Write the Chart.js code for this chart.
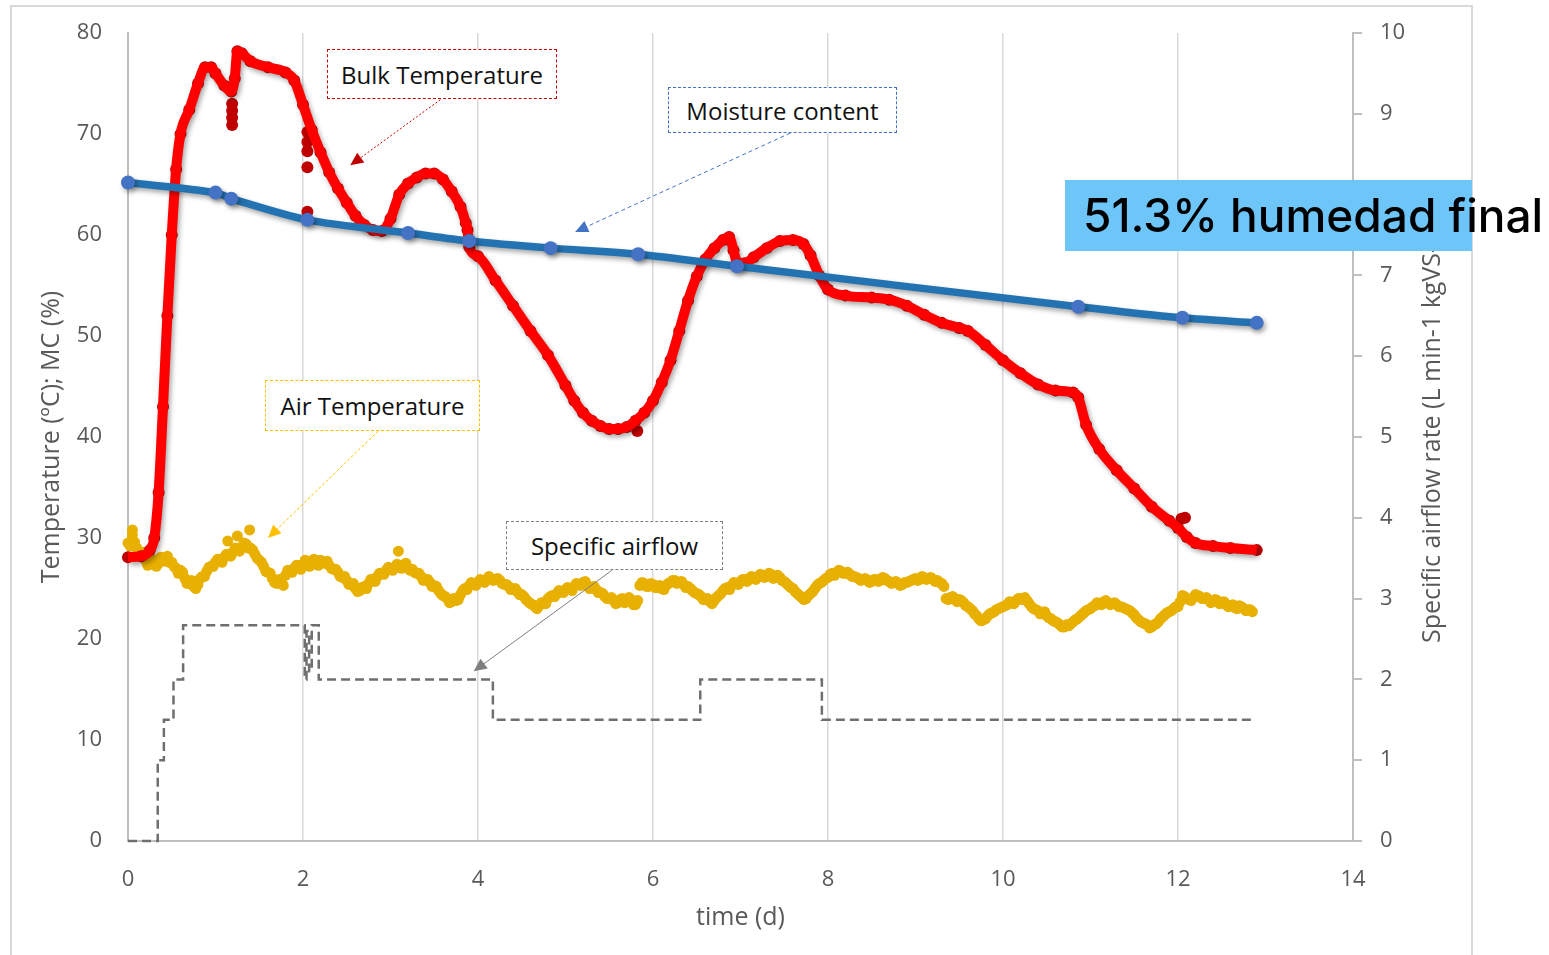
<!DOCTYPE html>
<html>
<head>
<meta charset="utf-8">
<script src="https://cdn.jsdelivr.net/npm/chart.js@4.4.0/dist/chart.umd.min.js"></script>
<style>
  html, body { margin: 0; padding: 0; background: #fff; overflow: hidden; }
  #wrap { position: relative; width: 1549px; height: 955px; }
  #frame { position: absolute; left: 10px; top: 5px; width: 1463px; height: 980px; border: 2px solid #d9d9d9; box-sizing: border-box; }
  canvas { position: absolute; left: 0; top: 0; }
  .note { position: absolute; box-sizing: border-box; display: flex; align-items: center; justify-content: center;
          font-family: "Open Sans", sans-serif; font-size: 24px; color: #111; background: #fff; }
  #final { position: absolute; left: 1065px; top: 180px; width: 407px; height: 71px; background: #6ec6f8;
           font-family: Inter, "Noto Sans", sans-serif; font-size: 46px; font-weight: 500; color: #000;
           white-space: nowrap; line-height: 71px; padding-left: 18px; box-sizing: border-box; overflow: visible; }
</style>
</head>
<body>
<div id="wrap">
  <div id="frame"></div>
  <canvas id="myChart" width="1549" height="955"></canvas>
  <div class="note" style="left:327px;top:49px;width:230px;height:50px;border:1.5px dashed #c00000;">Bulk Temperature</div>
  <div class="note" style="left:668px;top:87px;width:229px;height:46px;border:1.5px dashed #4472c4;">Moisture content</div>
  <div class="note" style="left:265px;top:380px;width:215px;height:51px;border:1.5px dashed #ffc000;">Air Temperature</div>
  <div class="note" style="left:506px;top:521px;width:217px;height:49px;border:1.5px dashed #7f7f7f;">Specific airflow</div>
  <div id="final">51.3% humedad final</div>
</div>
<script>
// bulk temperature (ºC), time in days
const bulkTime = [0, 0.15, 0.25, 0.3, 0.35, 0.4, 0.45, 0.5, 0.55, 0.6, 0.7, 0.8, 0.88, 0.95, 1.0, 1.1, 1.18, 1.22, 1.25, 1.3,
  1.4, 1.6, 1.8, 1.9, 2.0, 2.1, 2.2, 2.3, 2.4, 2.5, 2.6, 2.7, 2.8, 2.9, 3.0, 3.1, 3.2, 3.3, 3.4, 3.5,
  3.6, 3.7, 3.8, 3.86, 3.88, 3.9, 4.0, 4.2, 4.4, 4.6, 4.8, 5.0, 5.1, 5.2, 5.3, 5.4, 5.5, 5.6, 5.7, 5.8,
  5.9, 6.0, 6.1, 6.2, 6.3, 6.4, 6.5, 6.6, 6.7, 6.8, 6.87, 6.92, 6.96, 7.05, 7.15, 7.3, 7.45, 7.6, 7.72, 7.8,
  7.9, 8.0, 8.2, 8.5, 8.7, 8.9, 9.1, 9.3, 9.5, 9.6, 9.8, 10.0, 10.2, 10.4, 10.6, 10.8, 10.86, 10.95, 11.1, 11.3,
  11.5, 11.7, 11.9, 12.0, 12.1, 12.2, 12.4, 12.6, 12.9];
const bulkTemp = [28.1, 28.2, 28.8, 30.0, 34.5, 43.0, 52.0, 60.0, 66.5, 70.0, 72.4, 75.0, 76.6, 76.6, 76.0, 74.8, 74.2, 75.5, 78.2, 78.0,
  77.2, 76.6, 76.1, 75.3, 72.9, 70.4, 68.2, 66.2, 64.6, 63.2, 61.9, 61.0, 60.5, 60.4, 61.6, 64.0, 65.1, 65.7, 66.1, 66.1,
  65.5, 64.3, 62.8, 61.2, 60.5, 58.8, 57.9, 55.5, 53.0, 50.5, 48.1, 45.1, 43.6, 42.4, 41.6, 41.1, 40.8, 40.8, 41.0, 41.6,
  42.4, 43.6, 45.4, 47.6, 50.5, 53.5, 55.9, 57.6, 58.7, 59.5, 59.8, 58.5, 57.3, 57.2, 57.8, 58.7, 59.4, 59.5, 59.1, 58.0,
  56.0, 54.6, 54.0, 53.8, 53.6, 53.0, 52.1, 51.3, 50.8, 50.5, 49.1, 47.6, 46.3, 45.2, 44.6, 44.4, 43.9, 41.2, 38.8, 36.7,
  34.9, 33.1, 31.7, 31.0, 30.1, 29.5, 29.2, 29.0, 28.8];
// stray bulk temperature readings
const bulkOddTime = [1.19, 1.19, 1.19, 1.19, 2.05, 2.05, 2.05, 2.05, 2.05, 5.82, 12.04, 12.08];
const bulkOddTemp = [73.0, 72.3, 71.6, 70.9, 70.2, 69.2, 68.3, 66.7, 62.3, 40.6, 31.9, 32.0];

// moisture content (%)
const mcTime = [0, 1.0, 1.18, 2.05, 3.2, 3.9, 4.83, 5.83, 6.96, 10.86, 12.05, 12.9];
const mcValue = [65.2, 64.2, 63.6, 61.5, 60.2, 59.4, 58.7, 58.1, 56.9, 52.9, 51.8, 51.3];

// air temperature (ºC): readings every 0.05 d from day 0 ...
const airStep = 0.05;
const airTemp = [
  29.5, 30.3, 29.0, 28.2, 27.8, 27.4, 27.8, 27.5, 28.0, 28.2, 27.6, 27.0, 26.8, 26.0, 25.6, 25.2, 25.4, 26.2, 26.7, 27.2,
  27.6, 27.8, 28.1, 28.4, 28.6, 28.9, 29.1, 29.4, 29.0, 28.4, 27.8, 27.2, 26.6, 26.0, 25.5, 25.6, 26.3, 26.8, 27.0, 27.2,
  27.4, 27.5, 27.7, 27.5, 27.8, 27.6, 27.3, 26.9, 26.6, 26.1, 25.8, 25.4, 25.0, 24.8, 25.2, 25.5, 25.9, 26.2, 26.5, 26.8,
  27.0, 27.1, 27.2, 27.3, 27.0, 26.9, 26.5, 26.2, 25.9, 25.6, 25.3, 24.8, 24.3, 24.0, 23.7, 23.8, 24.4, 25.0, 25.3, 25.5,
  25.6, 25.8, 25.9, 26.0, 25.9, 25.8, 25.4, 25.2, 24.9, 24.7, 24.4, 23.9, 23.5, 23.2, 23.3, 23.6, 24.0, 24.3, 24.5, 24.7,
  24.9, 25.0, 25.2, 25.4, 25.6, 25.3, 25.1, 24.9, 24.6, 24.2, 24.0, 23.8, 23.6, 24.0, 23.7, 23.9, 23.4, 25.3, 25.5, 25.2,
  25.4, 25.1, 25.0, 25.3, 25.6, 25.8, 25.6, 25.4, 25.2, 24.8, 24.5, 24.2, 23.9, 23.7, 23.8, 24.3, 24.8, 25.1, 25.3, 25.5,
  25.7, 25.9, 26.0, 26.1, 26.2, 26.3, 26.2, 26.4, 26.2, 26.1, 25.7, 25.3, 25.0, 24.5, 24.1, 24.0, 24.5, 25.0, 25.5, 25.8,
  26.1, 26.5, 26.6, 26.7, 26.5, 26.4, 26.2, 26.0, 25.9, 25.8, 25.7, 25.9, 25.8, 26.0, 25.7, 25.6, 25.5, 25.4, 25.6, 25.8,
  26.0, 25.9, 26.1, 26.0, 25.9, 25.8, 25.5, 24.0, 24.1, 24.0, 23.9, 23.6, 23.2, 22.8, 22.3, 21.8, 22.0, 22.5, 22.7, 23.0,
  23.2, 23.4, 23.6, 23.8, 24.0, 24.1, 23.5, 23.0, 22.8, 22.6, 22.3, 22.0, 21.7, 21.4, 21.2, 21.3, 21.7, 22.0, 22.4, 22.8,
  23.0, 23.3, 23.5, 23.7, 23.6, 23.5, 23.4, 23.2, 23.0, 22.8, 22.4, 21.9, 21.6, 21.4, 21.2, 21.5, 22.0, 22.4, 22.7, 23.0,
  23.2, 24.3, 24.0, 23.8, 24.4, 24.2, 24.0, 23.9, 23.7, 23.8, 23.6, 23.4, 23.3, 23.1, 23.3, 23.0, 22.9, 22.7
];
// ... and the readings in between (from 0.025 d, same step)
const airTempMid = [
  29.2, 29.6, 28.5, 28.6, 27.3, 27.9, 27.2, 28.1, 27.7, 27.6, 27.2, 26.5, 26.6, 25.5, 25.8, 25.0, 26.0, 26.2, 27.1, 27.2,
  27.9, 27.6, 28.4, 28.2, 29.0, 28.7, 29.5, 29.0, 28.8, 28.0, 27.6, 26.7, 26.5, 25.6, 25.9, 25.3, 26.8, 26.6, 27.3, 26.9,
  27.8, 27.2, 27.9, 27.3, 27.5, 27.7, 27.0, 26.9, 26.2, 26.2, 25.4, 25.5, 24.7, 25.1, 25.0, 25.9, 25.7, 26.5, 26.4, 27.1,
  26.8, 27.4, 27.0, 27.5, 26.8, 26.6, 26.5, 25.8, 25.9, 25.2, 25.2, 24.5, 24.2, 23.6, 24.0, 23.9, 24.8, 24.9, 25.6, 25.3,
  25.9, 25.6, 26.2, 25.8, 26.0, 25.5, 25.4, 24.9, 25.0, 24.4, 24.2, 23.7, 23.4, 23.0, 23.6, 23.5, 24.2, 24.2, 24.8, 24.6,
  25.1, 24.8, 25.5, 25.3, 25.7, 25.0, 25.2, 24.6, 24.5, 24.0, 24.1, 23.5, 23.9, 23.6, 24.1, 23.4, 23.8, 25.6, 25.2, 25.5,
  25.1, 25.3, 24.9, 25.5, 25.8, 25.5, 25.7, 25.1, 25.0, 24.6, 24.4, 23.9, 24.0, 23.5, 24.1, 24.5, 25.0, 24.9, 25.6, 25.4,
  25.9, 25.7, 26.2, 25.9, 26.4, 26.1, 26.5, 26.0, 26.3, 25.8, 25.5, 25.1, 24.7, 24.3, 23.9, 24.3, 24.7, 25.3, 25.6, 26.0,
  26.4, 26.3, 26.8, 26.5, 26.6, 26.2, 26.1, 25.8, 26.0, 25.6, 25.9, 25.7, 26.1, 25.8, 25.5, 25.7, 25.3, 25.6, 25.7, 25.9,
  25.8, 26.2, 25.9, 26.1, 25.7, 25.6, 25.2, 23.9, 24.2, 23.7, 23.8, 23.3, 23.0, 22.5, 22.0, 21.9, 22.3, 22.6, 22.9, 23.1,
  23.3, 23.7, 23.5, 24.0, 23.9, 23.8, 23.2, 22.9, 22.5, 22.7, 22.1, 21.8, 21.6, 21.2, 21.4, 21.5, 21.9, 22.2, 22.6, 22.9,
  23.2, 23.6, 23.4, 23.8, 23.4, 23.6, 23.2, 23.1, 22.9, 22.6, 22.1, 21.7, 21.5, 21.1, 21.4, 21.7, 22.2, 22.6, 22.8, 23.2,
  23.7, 24.2, 23.9, 24.1, 24.3, 24.0, 24.1, 23.6, 23.9, 23.5, 23.7, 23.2, 23.4, 23.0, 23.2, 22.8, 22.9
];
const airOddTime = [0.05, 1.14, 1.25, 1.39, 3.09];
const airOddTemp = [30.8, 29.7, 30.2, 30.8, 28.7];

// specific airflow rate (right axis), each point is where a new level starts
const flowTime = [0, 0.34, 0.41, 0.52, 0.63, 2.02, 2.04, 2.07, 2.1, 2.18, 4.17, 6.54, 7.93, 12.86];
const flowRate = [0, 1.0, 1.5, 2.0, 2.67, 2.0, 2.6, 2.1, 2.67, 2.0, 1.5, 2.0, 1.5, 1.5];

const xTicks = [0, 2, 4, 6, 8, 10, 12, 14];

const pairs = (xs, ys) => xs.map((x, i) => ({ x: x, y: ys[i] }));
const gray = '#595959';
const tickFont = { family: 'Open Sans', size: 22 };
const titleFont = { family: 'Open Sans', size: 25 };

const shadowPlugin = {
  id: 'lineShadow',
  beforeDatasetDraw(chart, args) {
    if (!chart.data.datasets[args.index].shadow) return;
    const ctx = chart.ctx;
    ctx.save();
    ctx.shadowColor = 'rgba(0, 0, 0, 0.35)';
    ctx.shadowBlur = 5;
    ctx.shadowOffsetX = 2;
    ctx.shadowOffsetY = 3;
  },
  afterDatasetDraw(chart, args) {
    if (chart.data.datasets[args.index].shadow) chart.ctx.restore();
  }
};

// callout arrows, tail -> tip in data units of x / y
const arrows = [
  { from: [3.57, 73.4], to: [2.54, 66.9], color: '#c00000', dash: [2, 2] },
  { from: [7.57, 70.1], to: [5.11, 60.3], color: '#4472c4', dash: [4, 3] },
  { from: [2.86, 40.6], to: [1.6, 30.0], color: '#ffc000', dash: [3, 2] },
  { from: [5.53, 26.8], to: [3.95, 16.8], color: '#7f7f7f', dash: [] }
];

const extrasPlugin = {
  id: 'extras',
  afterDraw(chart) {
    const ctx = chart.ctx;
    const sx = chart.scales.x, sy = chart.scales.y;
    arrows.forEach(a => {
      const x1 = sx.getPixelForValue(a.from[0]), y1 = sy.getPixelForValue(a.from[1]);
      const x2 = sx.getPixelForValue(a.to[0]), y2 = sy.getPixelForValue(a.to[1]);
      const ang = Math.atan2(y2 - y1, x2 - x1);
      ctx.save();
      ctx.strokeStyle = a.color;
      ctx.fillStyle = a.color;
      ctx.lineWidth = 1;
      ctx.setLineDash(a.dash);
      ctx.beginPath();
      ctx.moveTo(x1, y1);
      ctx.lineTo(x2 - 10 * Math.cos(ang), y2 - 10 * Math.sin(ang));
      ctx.stroke();
      ctx.setLineDash([]);
      ctx.beginPath();
      ctx.moveTo(x2, y2);
      ctx.lineTo(x2 - 13 * Math.cos(ang) + 6 * Math.sin(ang), y2 - 13 * Math.sin(ang) - 6 * Math.cos(ang));
      ctx.lineTo(x2 - 13 * Math.cos(ang) - 6 * Math.sin(ang), y2 - 13 * Math.sin(ang) + 6 * Math.cos(ang));
      ctx.closePath();
      ctx.fill();
      ctx.restore();
    });
    // right axis title reads bottom to top
    const r = chart.scales.y2;
    ctx.save();
    ctx.translate(r.left + 80, r.bottom - 198);
    ctx.rotate(-Math.PI / 2);
    ctx.font = '25px "Open Sans"';
    ctx.fillStyle = gray;
    ctx.textAlign = 'left';
    ctx.textBaseline = 'middle';
    ctx.fillText('Specific airflow rate (L min-1 kgVS-1)', 0, 0);
    ctx.restore();
  }
};

const airPoints = pairs(airTemp.map((v, i) => i * airStep), airTemp)
  .concat(pairs(airTempMid.map((v, i) => i * airStep + airStep / 2), airTempMid))
  .concat(pairs(airOddTime, airOddTemp));

const myChart = new Chart(document.getElementById('myChart'), {
  type: 'scatter',
  data: {
    datasets: [
      {
        label: 'Moisture content',
        data: pairs(mcTime, mcValue),
        showLine: true,
        tension: 0.3,
        borderColor: '#2372b1',
        borderWidth: 7.5,
        pointRadius: 7,
        pointBackgroundColor: '#4472c4',
        pointBorderWidth: 0,
        shadow: true,
        clip: false,
        order: 0
      },
      {
        label: 'Bulk Temperature',
        data: pairs(bulkTime, bulkTemp),
        showLine: true,
        cubicInterpolationMode: 'monotone',
        borderColor: '#ff0000',
        borderWidth: 10,
        pointRadius: 0,
        shadow: true,
        clip: false,
        order: 1
      },
      {
        label: 'Bulk Temperature readings',
        data: pairs(bulkTime, bulkTemp).concat(pairs(bulkOddTime, bulkOddTemp)),
        pointRadius: 6,
        pointBackgroundColor: '#c00000',
        pointBorderWidth: 0,
        clip: false,
        order: 2
      },
      {
        label: 'Air Temperature',
        data: airPoints,
        pointRadius: 5.5,
        pointBackgroundColor: '#e8b000',
        pointBorderWidth: 0,
        clip: false,
        order: 3
      },
      {
        label: 'Specific airflow',
        data: pairs(flowTime, flowRate),
        yAxisID: 'y2',
        showLine: true,
        stepped: true,
        borderColor: '#6f6f6f',
        borderWidth: 2.5,
        borderDash: [9, 5],
        pointRadius: 0,
        clip: false,
        order: 4
      }
    ]
  },
  options: {
    responsive: false,
    animation: false,
    layout: { padding: { top: 33, left: 0, right: 0, bottom: 0 } },
    plugins: { legend: { display: false }, tooltip: { enabled: false } },
    scales: {
      x: {
        type: 'linear',
        min: 0,
        max: 14,
        afterBuildTicks: s => { s.ticks = xTicks.map(v => ({ value: v })); },
        afterFit: s => { s.height = 114; },
        ticks: { color: gray, font: tickFont, padding: 26 },
        grid: { color: '#d9d9d9', lineWidth: 1.5, drawTicks: false },
        border: { color: '#bfbfbf', width: 2 },
        title: { display: true, text: 'time (d)', color: gray, font: titleFont, padding: { top: 0, bottom: 22 } }
      },
      y: {
        position: 'left',
        min: 0,
        max: 80,
        afterFit: s => { s.width = 128; },
        ticks: { stepSize: 10, color: gray, font: tickFont, padding: 18 },
        grid: { display: false },
        border: { color: '#bfbfbf', width: 2 },
        title: { display: true, text: 'Temperature (ºC); MC (%)', color: gray, font: titleFont, padding: { top: 37, bottom: 0 } }
      },
      y2: {
        position: 'right',
        min: 0,
        max: 10,
        afterFit: s => { s.width = 196; },
        ticks: { stepSize: 1, color: gray, font: tickFont, padding: 18 },
        grid: { drawOnChartArea: false, tickLength: 9, color: '#bfbfbf', lineWidth: 2 },
        border: { color: '#bfbfbf', width: 2 }
      }
    }
  },
  plugins: [shadowPlugin, extrasPlugin]
});
</script>
</body>
</html>
